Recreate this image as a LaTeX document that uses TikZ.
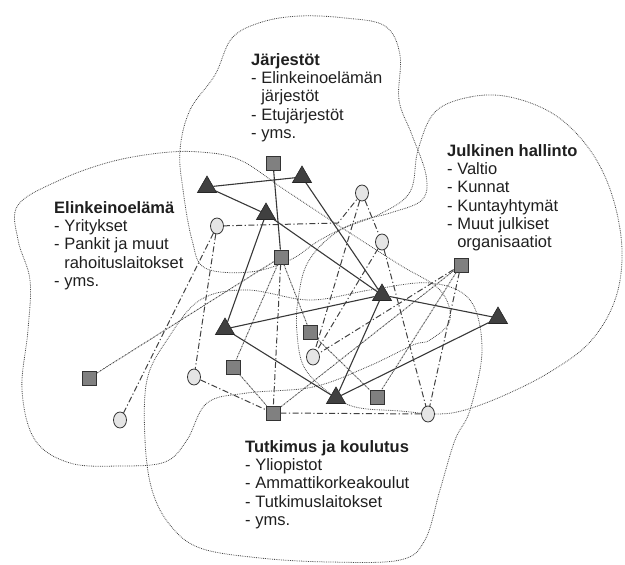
\documentclass[tikz,border=0pt]{standalone}
\usepackage{fontspec}
\setmainfont{Liberation Sans}
\usetikzlibrary{shapes.geometric}
\tikzset{sqnode/.style={rectangle,draw=black!80,fill=black!50,inner sep=0pt,minimum size=14pt,line width=0.8pt},
	 trinode/.style={regular polygon,regular polygon sides=3,draw=black!85,fill=black!75,inner sep=0pt,minimum size=22pt,line width=0.6pt},
	 cnode/.style={ellipse,draw=black!80,fill=black!10,inner sep=0pt,minimum width=13pt,minimum height=16pt,line width=0.8pt},
	 tie/.style={line width=1.1pt,black!78},
	 dlink/.style={line width=1pt,black!75,dash pattern=on 6pt off 2.5pt on 1.2pt off 2.5pt},
	 flink/.style={line width=0.9pt,black!70,dash pattern=on 1.6pt off 0.8pt on 0.5pt off 0.8pt},
	 blob/.style={line width=0.8pt,black!72,densely dotted},
	 lbl/.style={anchor=north west,align=left,inner sep=0pt,text=black!88,font=\fontsize{16.5}{18.3}\selectfont}
	 }

\begin{document}
\begin{tikzpicture}[x=1pt,y=-1pt] % verkosto: neljä toimijaryhmää
	\useasboundingbox (0,0) rectangle (625,565);
	% alueet
	\draw[blob] plot[smooth cycle,tension=0.6] coordinates {(232,38) (262,22) (300,16) (345,18) (385,26) (400,55) (399,100) (412,135) (426,175) (422,200) (390,213) (357,222) (320,240) (290,260) (250,272) (205,268) (192,240) (183,190) (180,150) (190,110) (215,75)};
	\draw[blob] plot[smooth cycle,tension=0.6] coordinates {(18,205) (60,180) (110,162) (160,153) (200,152) (240,160) (285,190) (350,233) (400,265) (440,290) (450,320) (430,340) (413,345) (367,367) (313,387) (247,393) (207,403) (187,440) (165,462) (120,466) (70,463) (35,440) (22,390) (28,330) (30,280) (18,240)};
	\draw[blob] plot[smooth cycle,tension=0.6] coordinates {(435,112) (470,97) (510,97) (555,115) (590,150) (612,195) (622,250) (615,300) (590,342) (550,372) (505,395) (465,410) (437,414) (400,411) (355,407) (328,392) (304,367) (297,333) (298,300) (308,262) (337,232) (380,214) (410,192) (418,150)};
	\draw[blob] plot[smooth cycle,tension=0.6] coordinates {(200,300) (247,290) (310,300) (370,290) (430,283) (470,300) (482,350) (470,410) (455,440) (440,490) (425,540) (400,560) (330,562) (260,558) (200,548) (170,525) (152,490) (145,440) (147,380) (167,340)};
	% tekstit
	\node[lbl] (jar) at (251,53) {\textbf{Järjestöt}\\- Elinkeinoelämän\\\phantom{- }järjestöt\\- Etujärjestöt\\- yms.};
	\node[lbl] (jul) at (447,144) {\textbf{Julkinen hallinto}\\- Valtio\\- Kunnat\\- Kuntayhtymät\\- Muut julkiset\\\phantom{- }organisaatiot};
	\node[lbl] (eli) at (54,201) {\textbf{Elinkeinoelämä}\\- Yritykset\\- Pankit ja muut\\\phantom{- }rahoituslaitokset\\- yms.};
	\node[lbl] (tut) at (245,440) {\textbf{Tutkimus ja koulutus}\\- Yliopistot\\- Ammattikorkeakoulut\\- Tutkimuslaitokset\\- yms.};
	% toimijat
	\node[sqnode] (s1) at (273,163) {};
	\node[sqnode] (s2) at (281,257) {};
	\node[sqnode] (s3) at (461,265) {};
	\node[sqnode] (s4) at (310,332) {};
	\node[sqnode] (s5) at (233,367) {};
	\node[sqnode] (s6) at (89,378) {};
	\node[sqnode] (s7) at (273,413) {};
	\node[sqnode] (s8) at (377,397) {};
	\node[trinode] (t1) at (207,187) {};
	\node[trinode] (t2) at (302,177) {};
	\node[trinode] (t3) at (266,214) {};
	\node[trinode] (t4) at (382,295) {};
	\node[trinode] (t5) at (498,318) {};
	\node[trinode] (t6) at (225,329) {};
	\node[trinode] (t7) at (336,398) {};
	\node[cnode] (c1) at (217,226) {};
	\node[cnode] (c2) at (362,193) {};
	\node[cnode] (c3) at (382,242) {};
	\node[cnode] (c4) at (313,357) {};
	\node[cnode] (c5) at (194,377) {};
	\node[cnode] (c6) at (120,420) {};
	\node[cnode] (c7) at (428,414) {};
	\coordinate (k1) at (338,223);
	% yhteydet
	\draw[tie] (t1) -- (t2); \draw[tie] (t1) -- (t3); \draw[tie] (t3) -- (t4);
	\draw[tie] (t2) -- (t4); \draw[tie] (t3) -- (t6); \draw[tie] (t6) -- (t4);
	\draw[tie] (t6) -- (t7); \draw[tie] (t4) -- (t7); \draw[tie] (t7) -- (t5);
	\draw[tie] (t4) -- (t5); \draw[tie] (s1) -- (s2);
	\draw[dlink] (c1) -- (k1) -- (c2); \draw[dlink] (c2) -- (c3); \draw[dlink] (c3) -- (c7);
	\draw[dlink] (c2) -- (c4); \draw[dlink] (c3) -- (c4); \draw[dlink] (c1) -- (c5);
	\draw[dlink] (c1) -- (c6); \draw[dlink] (c5) -- (s7); \draw[dlink] (s7) -- (c7);
	\draw[dlink] (s3) -- (c7); \draw[dlink] (s3) -- (c4); \draw[dlink] (s2) -- (s7);
	\draw[flink] (s2) -- (s6); \draw[flink] (s2) -- (s5); \draw[flink] (s5) -- (s7);
	\draw[flink] (s2) -- (s4); \draw[flink] (s4) -- (s8); \draw[flink] (s3) -- (s8);
	\draw[flink] (s3) -- (s7);
\end{tikzpicture}
\end{document}
